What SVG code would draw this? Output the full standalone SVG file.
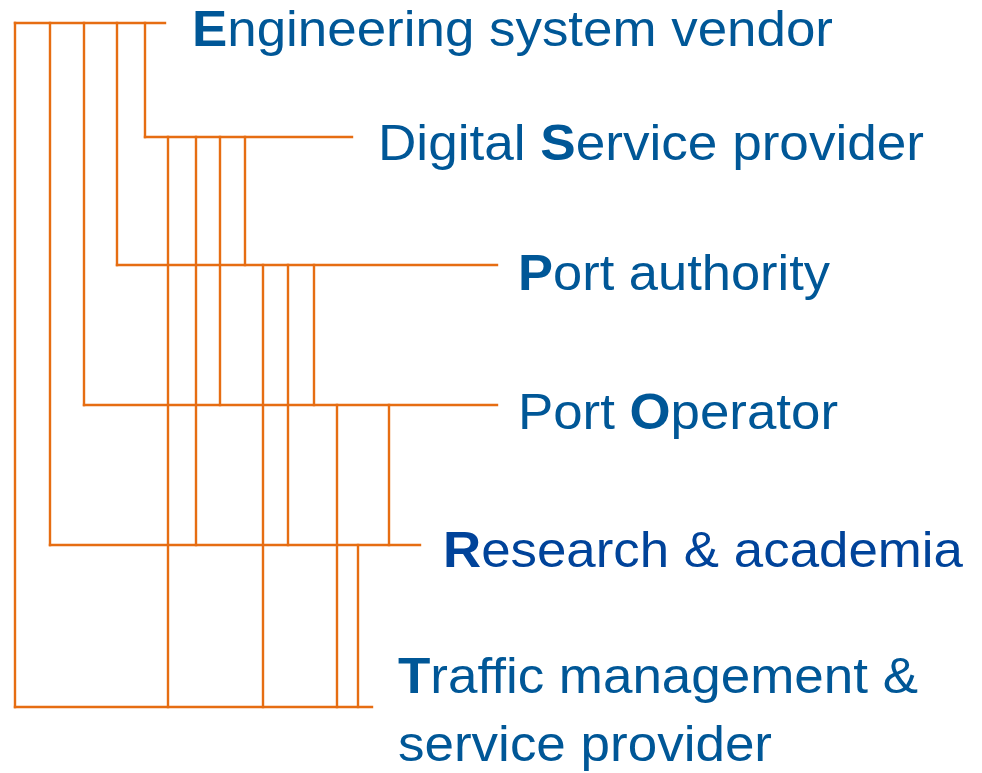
<svg xmlns="http://www.w3.org/2000/svg" width="982" height="773" viewBox="0 0 982 773">
<style>
.c{stroke:#E66D12;stroke-width:2.4;fill:none;stroke-linecap:square}
.t{font-family:"Liberation Sans",Arial,sans-serif;font-size:50px;fill:#005797}
.b{font-weight:bold}
.r{fill:#00439A}
</style>
<rect width="982" height="773" fill="#fff"/>
<g id="connectors">
<path class="c" d="M15,23H165"/>
<path class="c" d="M145,137H352"/>
<path class="c" d="M117,265H497"/>
<path class="c" d="M84,405H497"/>
<path class="c" d="M50,545H420"/>
<path class="c" d="M15,707H372"/>
<path class="c" d="M15,23V707M50,23V545M84,23V405M117,23V265M145,23V137"/>
<path class="c" d="M168,137V707M196,137V545M220,137V405M245,137V265"/>
<path class="c" d="M263,265V707M288,265V545M314,265V405"/>
<path class="c" d="M337,405V707M389,405V545"/>
<path class="c" d="M358,545V707"/>
</g>
<g id="engineering"><text class="t" x="192" y="46" textLength="641" lengthAdjust="spacingAndGlyphs"><tspan class="b">E</tspan>ngineering system vendor</text></g>
<g id="digital"><text class="t" x="378" y="160" textLength="546" lengthAdjust="spacingAndGlyphs">Digital <tspan class="b">S</tspan>ervice provider</text></g>
<g id="port-authority"><text class="t" x="518" y="290" textLength="312" lengthAdjust="spacingAndGlyphs"><tspan class="b">P</tspan>ort authority</text></g>
<g id="port-operator"><text class="t" x="518" y="429" textLength="320" lengthAdjust="spacingAndGlyphs">Port <tspan class="b">O</tspan>perator</text></g>
<g id="research"><text class="t r" x="443" y="567" textLength="520" lengthAdjust="spacingAndGlyphs"><tspan class="b">R</tspan>esearch &amp; academia</text></g>
<g id="traffic"><text class="t" x="398" y="693" textLength="520" lengthAdjust="spacingAndGlyphs"><tspan class="b">T</tspan>raffic management &amp;</text><text class="t" x="398" y="761" textLength="374" lengthAdjust="spacingAndGlyphs">service provider</text></g>
</svg>
